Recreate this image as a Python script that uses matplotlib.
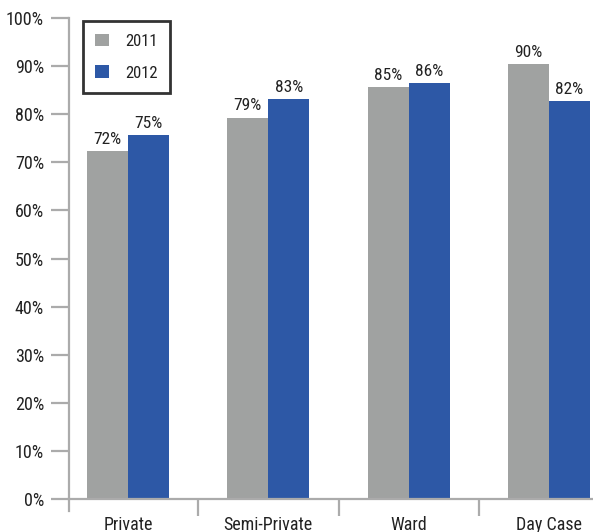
import matplotlib
matplotlib.use("Agg")
import matplotlib.pyplot as plt
import numpy as np
from matplotlib.lines import Line2D
from matplotlib import font_manager as fm
import math

categories = ["Private", "Semi-Private", "Ward", "Day Case"]
series_names = ["2011", "2012"]
values_2011 = [72.4, 79.3, 85.7, 90.5]
values_2012 = [75.7, 83.2, 86.5, 82.8]
y_ticks = [0, 10, 20, 30, 40, 50, 60, 70, 80, 90, 100]

GRAY = "#A0A2A1"
BLUE = "#2D58A6"
AXIS = "#ABABAB"
TEXT = "#222222"

# pick a narrow face if one is installed
fonts = fm.fontManager.ttflist
names = {f.name for f in fonts}
stretch = "normal"
if "Liberation Sans Narrow" in names:
    family = "Liberation Sans Narrow"
elif "Roboto Condensed" in names:
    family = "Roboto Condensed"
elif "Open Sans Condensed" in names:
    family = "Open Sans Condensed"
elif any(f.name == "DejaVu Sans" and "Condensed" in f.fname for f in fonts):
    family, stretch = "DejaVu Sans", "condensed"
else:
    family = "Liberation Sans"
plt.rcParams["font.family"] = [family, "DejaVu Sans"]
plt.rcParams["font.stretch"] = stretch

W, H = 593, 532
fig = plt.figure(figsize=(W / 100, H / 100), dpi=100)
ax = fig.add_axes([69 / W, (H - 499) / H, 1 - 69 / W, 481 / H])

x = np.arange(len(categories))
bw = 0.293
b1 = ax.bar(x - bw / 2, values_2011, bw, color=GRAY, label=series_names[0], zorder=2)
b2 = ax.bar(x + bw / 2, values_2012, bw, color=BLUE, label=series_names[1], zorder=2)

for bars, vals in ((b1, values_2011), (b2, values_2012)):
    for rect, v in zip(bars, vals):
        ax.annotate(f"{math.floor(v)}%", (rect.get_x() + rect.get_width() / 2, v),
                    xytext=(0, 3), textcoords="offset points",
                    ha="center", va="bottom", fontsize=12.5, color=TEXT)

ax.set_xlim(-0.421, 3.314)
ax.set_ylim(0, 100)

ax.set_yticks(y_ticks)
ax.set_yticklabels([f"{t}%" for t in y_ticks])
ax.tick_params(axis="y", length=13, width=1.6, color=AXIS, pad=5,
               labelsize=13, labelcolor=TEXT)

ax.set_xticks(x)
ax.set_xticklabels(categories)
ax.tick_params(axis="x", which="major", length=0, pad=12, labelsize=13, labelcolor=TEXT)
ax.set_xticks(x[:-1] + 0.5, minor=True)
ax.tick_params(axis="x", which="minor", length=12, width=1.6, color=AXIS, direction="out")

for side in ("top", "right"):
    ax.spines[side].set_visible(False)
for side in ("left", "bottom"):
    ax.spines[side].set_color(AXIS)
    ax.spines[side].set_linewidth(1.6)

# left spine continues a little below the baseline
ax.add_line(Line2D([0, 0], [0, -12 / 481], transform=ax.transAxes,
                   color=AXIS, linewidth=1.6, clip_on=False))

leg = ax.legend(loc="upper left", bbox_to_anchor=(83 / W, 1 - 21 / H),
                bbox_transform=fig.transFigure, borderaxespad=0,
                fancybox=False, frameon=True, edgecolor="black",
                fontsize=12, handlelength=0.8, handleheight=0.8,
                handletextpad=1.0, labelspacing=1.0, borderpad=0.75)
leg.get_frame().set_linewidth(2)
for t in leg.get_texts():
    t.set_color(TEXT)

fig.savefig("out.png", dpi=100)
